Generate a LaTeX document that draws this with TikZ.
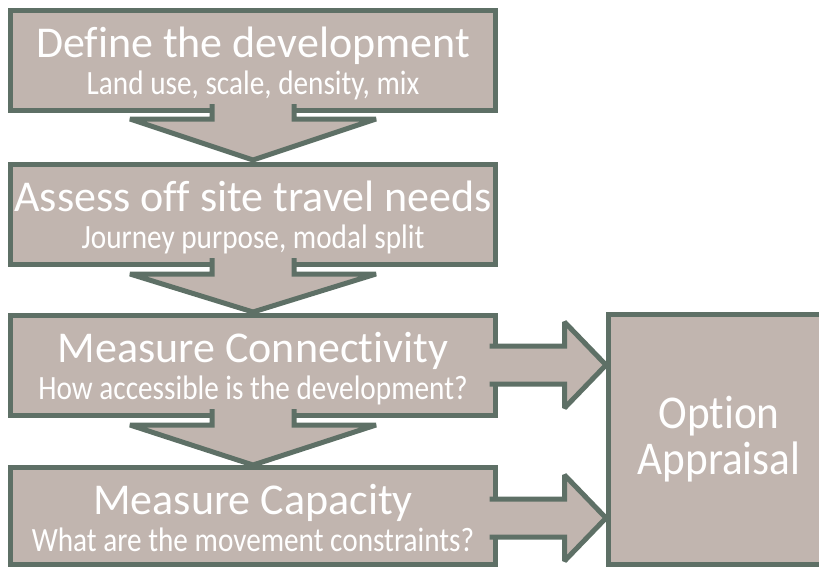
\documentclass[tikz,border=0pt]{standalone}
\usepackage{fontspec}
\setmainfont[Ligatures=NoCommon]{Carlito}
\newfontfamily\narrowfont[FakeStretch=0.86,Ligatures=NoCommon]{Carlito}
\newfontfamily\optionfont[FakeStretch=0.92,Ligatures=NoCommon]{Carlito}
\usetikzlibrary{calc}
\definecolor{stagefill}{RGB}{193,181,175}
\definecolor{stageline}{RGB}{94,112,102}
\tikzset{
  stagebox/.style={draw=stageline, fill=stagefill, line width=5pt, inner sep=0pt, outer sep=0pt},
  flowarrow/.style={draw=stageline, fill=stagefill, line width=5pt, line join=miter, miter limit=2},
  headline/.style={text=white, inner sep=0pt, anchor=base, font=\fontsize{44}{48}\selectfont},
  subline/.style={text=white, inner sep=0pt, anchor=base, font=\narrowfont\fontsize{34}{38}\selectfont}
}
\begin{document}
\begin{tikzpicture}[x=1pt,y=-1pt]
  \path[use as bounding box] (0,0) rectangle (819,566);
  \clip (0,0) rectangle (819,566);
  \node[stagebox, minimum width=485pt, minimum height=100pt] (define) at (253,60) {};
  \node[stagebox, minimum width=485pt, minimum height=100pt] (assess) at (253,214) {};
  \draw[flowarrow] ($(define.south)+(-41,-6)$) -- ++(0,15) -- ++(-82,0)
  -- ($(assess.north)+(0,-4)$) -- ($(define.south)+(123,9)$) -- ++(-82,0) -- ++(0,-15);
  \node[stagebox, minimum width=485pt, minimum height=100pt] (conn) at (253,365) {};
  \draw[flowarrow] ($(assess.south)+(-41,-6)$) -- ++(0,16) -- ++(-82,0)
  -- ($(conn.north)+(0,-3)$) -- ($(assess.south)+(123,10)$) -- ++(-82,0) -- ++(0,-16);
  \node[stagebox, minimum width=485pt, minimum height=97pt] (cap) at (253,515.5) {};
  \draw[flowarrow] ($(conn.south)+(-41,-6)$) -- ++(0,16) -- ++(-82,0)
  -- ($(cap.north)+(0,-2)$) -- ($(conn.south)+(123,10)$) -- ++(-82,0) -- ++(0,-16);

  \node[stagebox, minimum width=222pt, minimum height=250pt, text=white, align=center,
  font=\optionfont\fontsize{47}{46}\selectfont] (option) at (719,439) {Option\\Appraisal};
  \draw[flowarrow] ($(conn.east)+(-6,-19)$) -- ++(75,0) -- ++(0,-24)
  -- ($(option.west|-conn.east)+(-2,0)$) -- ($(conn.east)+(69,43)$) -- ++(0,-24) -- ++(-75,0);
  \coordinate (capout) at ($(cap.east)+(0,2.5)$);
  \draw[flowarrow] ($(capout)+(-6,-19)$) -- ++(75,0) -- ++(0,-24)
  -- ($(option.west|-capout)+(-2,0)$) -- ($(capout)+(69,43)$) -- ++(0,-24) -- ++(-75,0);

  \node[headline] (definehead) at ($(define.north)+(0,47)$) {Define the development};
  \node[subline] (definesub) at ($(define.north)+(0,84)$) {Land use, scale, density, mix};
  \node[headline] (assesshead) at ($(assess.north)+(0,47)$) {Assess off site travel needs};
  \node[subline] (assesssub) at ($(assess.north)+(0,84)$) {Journey purpose, modal split};
  \node[headline] (connhead) at ($(conn.north)+(0,47)$) {Measure Connectivity};
  \node[subline] (connsub) at ($(conn.north)+(0,84)$) {How accessible is the development?};
  \node[headline] (caphead) at ($(cap.north)+(0,47)$) {Measure Capacity};
  \node[subline] (capsub) at ($(cap.north)+(0,84)$) {What are the movement constraints?};
\end{tikzpicture}
\end{document}
